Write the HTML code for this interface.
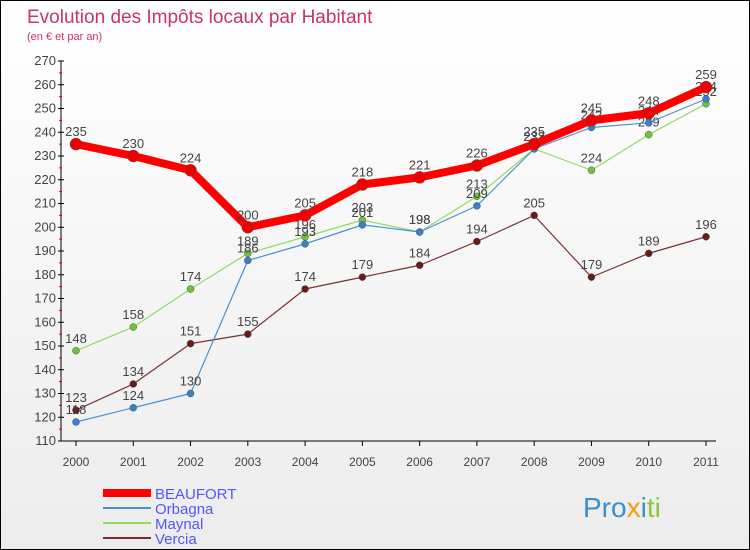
<!DOCTYPE html>
<html><head><meta charset="utf-8"><style>
body{margin:0}
#c{width:748px;height:548px;border:1px solid #000;background:linear-gradient(#fff,#ececec);position:relative;font-family:"Liberation Sans",sans-serif;overflow:hidden}
</style></head><body>
<div id="c">
<svg id="s" width="748" height="548" xmlns="http://www.w3.org/2000/svg">
<text x="26" y="22" font-size="19" fill="#c8336a">Evolution des Impôts locaux par Habitant</text>
<text x="26" y="39" font-size="11" fill="#c8336a">(en € et par an)</text>
<g id="axes"></g><g id="series"></g>
<g>
<line x1="102" y1="492" x2="150" y2="492" stroke="#f00" stroke-width="8"/>
<text x="154" y="498" font-size="15" fill="#55f">BEAUFORT</text>
<line x1="102" y1="507" x2="150" y2="507" stroke="#4a90d0" stroke-width="2"/>
<text x="154" y="513" font-size="15" fill="#55f">Orbagna</text>
<line x1="102" y1="522" x2="150" y2="522" stroke="#8fdc60" stroke-width="2"/>
<text x="154" y="528" font-size="15" fill="#55f">Maynal</text>
<line x1="102" y1="537" x2="150" y2="537" stroke="#7a3030" stroke-width="2"/>
<text x="154" y="543" font-size="15" fill="#55f">Vercia</text>
</g>
<text x="582" y="516" font-size="28"><tspan fill="#3a8fd0">Pro</tspan><tspan fill="#f39c12">x</tspan><tspan fill="#3a8fd0">i</tspan><tspan fill="#8cc63f">ti</tspan></text>
</svg></div>
<script>
const years=["2000","2001","2002","2003","2004","2005","2006","2007","2008","2009","2010","2011"];
const yTicks=[110,120,130,140,150,160,170,180,190,200,210,220,230,240,250,260,270];
const beaufort=[235,230,224,200,205,218,221,226,235,245,248,259];
const orbagna=[118,124,130,186,193,201,198,209,233,242,244,254];
const maynal=[148,158,174,189,196,203,198,213,233,224,239,252];
const vercia=[123,134,151,155,174,179,184,194,205,179,189,196];
const NS="http://www.w3.org/2000/svg";
const X=i=>75+i*(630/(years.length-1));
const Y=v=>440-(v-110)*(380/160);
function mk(t,a,p){const e=document.createElementNS(NS,t);for(const k in a)e.setAttribute(k,a[k]);p.appendChild(e);return e;}
const ax=document.getElementById('axes');
const yl=mk('line',{x1:60,y1:Y(270),x2:60,y2:440,stroke:'#000'},ax);


const xl=mk('line',{x1:60,y1:440,x2:715,y2:440,stroke:'#000'},ax);


yTicks.forEach(v=>{
 mk('line',{x1:57,y1:Y(v),x2:63,y2:Y(v),stroke:'#000'},ax);
 if(v<270)mk('line',{x1:58,y1:Y(v+5),x2:61,y2:Y(v+5),stroke:'#d00'},ax);
 const t=mk('text',{x:55,y:Y(v)+4,'font-size':13,fill:'#444','text-anchor':'end'},ax);
 t.textContent=v;
 
 
});
years.forEach((y,i)=>{
 mk('line',{x1:X(i),y1:440,x2:X(i),y2:445,stroke:'#000'},ax);
 const t=mk('text',{x:X(i),y:465,'font-size':12,fill:'#444','text-anchor':'middle'},ax);
 t.textContent=y;
 
 
});
const sg=document.getElementById('series');
function draw(name,data,color,w,r,dot){
 const g=mk('g',{},sg);
 
 
 const p=mk('polyline',{points:data.map((v,i)=>X(i)+','+Y(v)).join(' '),fill:'none',stroke:color,'stroke-width':w,'stroke-linejoin':'round'},g);
 
 
 data.forEach((v,i)=>{
  const c=mk('circle',{cx:X(i),cy:Y(v),r:r,fill:dot,stroke:'#555','stroke-width':0.5},g);
  
  
  const t=mk('text',{x:X(i),y:Y(v)-8,'font-size':13,fill:'#444','text-anchor':'middle'},g);
  t.textContent=v;
  
  
 });
}
draw('vercia',vercia,'#7a3030',1.2,3.5,'#6a1a1a');
draw('maynal',maynal,'#8fdc60',1.2,3.5,'#6cc43c');
draw('orbagna',orbagna,'#4a90d0',1.2,3.5,'#3a80c8');
draw('beaufort',beaufort,'#f00',8,6,'#e00');
</script>
</body></html>
